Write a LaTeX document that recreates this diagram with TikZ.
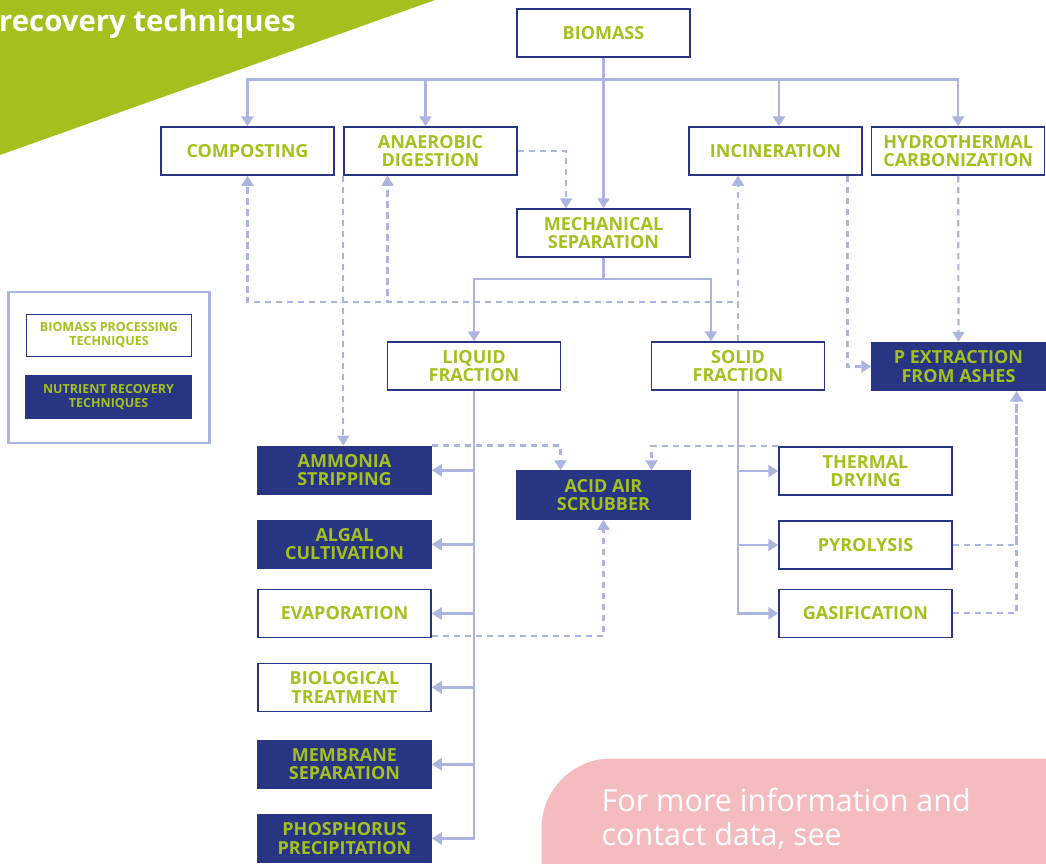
\documentclass[tikz,border=0pt]{standalone}
\usepackage{fontspec}
\setmainfont{Open Sans}
\newcommand\semibold{\bfseries}
\usetikzlibrary{arrows.meta, positioning}

\definecolor{leafgreen}{HTML}{A3C11C}
\definecolor{navy}{HTML}{283583}
\definecolor{lavender}{HTML}{ADB4E0}
\definecolor{blush}{HTML}{F5BCC0}

\begin{document}
\begin{tikzpicture}[x=1pt, y=-1pt,
  proc/.style={draw=navy, line width=1.5pt, fill=white, minimum width=173pt, minimum height=48pt, inner sep=0pt, align=center, text=leafgreen, font=\semibold\fontsize{18}{18.5}\selectfont},
  recov/.style={proc, fill=navy},
  keybox/.style={minimum width=165pt, minimum height=42pt, line width=1.2pt, font=\semibold\fontsize{12.5}{14}\selectfont},
  link/.style={draw=lavender, line width=2.5pt},
  arrow/.style={link, -{Triangle[length=10pt, width=12pt]}},
  darrow/.style={draw=lavender, line width=2.2pt, dash pattern=on 6.5pt off 4.5pt, -{Triangle[length=10pt, width=12pt]}}
]
\useasboundingbox (0,0) rectangle (1046,863);

% Title corner and info box
\fill[leafgreen] (0,0) -- (435,0) -- (0,155) -- cycle;
\node[anchor=base west, inner sep=0pt, text=white, font=\bfseries\fontsize{29.3}{31}\selectfont] (title) at (-1,31.5) {recovery techniques};
\fill[blush, rounded corners=70pt] (541.5,758.5) rectangle (1130,960);
\node[anchor=base west, inner sep=0pt, align=left, text=white, font=\fontsize{30.5}{33.5}\selectfont] (moreinfo) at (601.5,845) {For more information and\\contact data, see};

% Legend
\node[draw=lavender, line width=2.5pt, minimum width=201pt, minimum height=151pt, inner sep=0pt] (legend) at (108.8,367.5) {};
\node[proc, keybox] (keyproc) at (109,335.5) {BIOMASS PROCESSING\\TECHNIQUES};
\node[recov, keybox] (keyrecov) at (108.5,397) {NUTRIENT RECOVERY\\TECHNIQUES};

% Row 1: biomass and its processing routes
\node[proc] (biomass) at (603.5,33) {BIOMASS};
\node[proc] (compost) at (247.5,151) {COMPOSTING};
\node[proc, right=8.5pt of compost] (anaerobic) {ANAEROBIC\\DIGESTION};
\node[proc] (incin) at (775.5,151) {INCINERATION};
\node[proc, right=8.2pt of incin] (hydro) {HYDROTHERMAL\\CARBONIZATION};

% Row 2: separation and fractions
\node[proc] (mech) at (603.5,233) {MECHANICAL\\SEPARATION};
\node[proc] (liquid) at (474,366) {LIQUID\\FRACTION};
\node[proc] (solid) at (738,366) {SOLID\\FRACTION};
\node[recov] (pext) at (958.5,366.5) {P EXTRACTION\\FROM ASHES};

% Liquid fraction column
\node[recov] (ammonia) at (344.5,470.3) {AMMONIA\\STRIPPING};
\node[recov, below=24.5pt of ammonia] (algal) {ALGAL\\CULTIVATION};
\node[proc, below=19.7pt of algal] (evap) {EVAPORATION};
\node[proc, below=24.3pt of evap] (bio) {BIOLOGICAL\\TREATMENT};
\node[recov, below=27.5pt of bio] (membrane) {MEMBRANE\\SEPARATION};
\node[recov, below=24.7pt of membrane] (phos) {PHOSPHORUS\\PRECIPITATION};
\node[recov] (acid) at (603.5,495) {ACID AIR\\SCRUBBER};

% Solid fraction column
\node[proc] (thermal) at (865.5,471) {THERMAL\\DRYING};
\node[proc, below=24.5pt of thermal] (pyro) {PYROLYSIS};
\node[proc, below=18.8pt of pyro] (gasif) {GASIFICATION};

% Solid arrows
\coordinate (bus) at ([yshift=-21.5pt]biomass.south);
\coordinate (adin) at ([xshift=-5pt]anaerobic.north);
\coordinate (icin) at ([xshift=3.5pt]incin.north);
\draw[arrow] (biomass.south) -- (bus) -| (compost);
\draw[arrow] (biomass.south) -- (bus) -| (adin);
\draw[arrow] (biomass.south) -- (bus) -| (icin);
\draw[arrow] (biomass.south) -- (bus) -| (hydro);
\draw[arrow] (biomass) -- (mech);

\coordinate (split) at ([yshift=-21pt]mech.south);
\coordinate (sdin) at ([xshift=-27pt]solid.north);
\draw[arrow] (mech.south) -- (split) -| (liquid);
\draw[arrow] (mech.south) -- (split) -| (sdin);

\foreach \out in {ammonia, algal, evap, bio, membrane, phos}
  \draw[arrow] (liquid.south) |- (\out.east);
\foreach \out in {thermal, pyro, gasif}
  \draw[arrow] (solid.south) |- (\out.west);

% Dashed arrows
\draw[darrow] (anaerobic.east) -| ([xshift=-37.5pt]mech.north);
\draw[darrow] (anaerobic.south west) -- (anaerobic.south west |- ammonia.north);

\coordinate (back) at ([yshift=39pt]solid.north);
\coordinate (adout) at ([xshift=-43pt]anaerobic.south);
\draw[darrow] (solid.north) -- (solid.north |- incin.south);
\draw[darrow] (solid.north) -- (back) -| (compost);
\draw[darrow] (solid.north) -- (back) -| (adout);

\draw[darrow] (ammonia.north east) -| ([xshift=-43pt]acid.north);
\draw[darrow] (thermal.north west) -| ([xshift=48pt]acid.north);
\draw[darrow] ([yshift=2pt]evap.south east) -| (acid);

\coordinate (icout) at ([xshift=72pt]incin.south);
\coordinate (pin) at ([xshift=58pt]pext.south);
\draw[darrow] (icout) |- (pext);
\draw[darrow] (hydro) -- (pext);
\draw[darrow] (pyro.east) -| (pin);
\draw[darrow] (gasif.east) -| (pin);

\end{tikzpicture}
\end{document}
